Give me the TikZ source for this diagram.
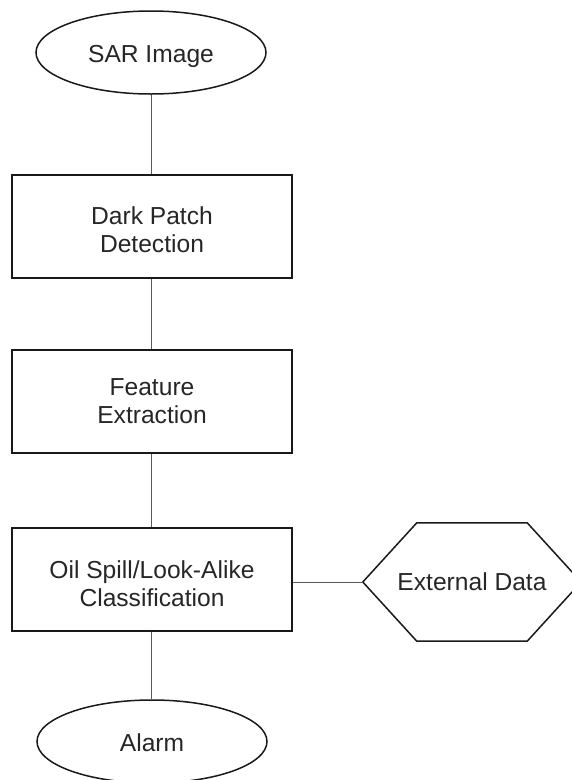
\documentclass[tikz,border=0pt]{standalone}
\usepackage{fontspec}
\setmainfont{Liberation Sans}
\usetikzlibrary{shapes.geometric}
\begin{document}
\begin{tikzpicture}[x=1pt,y=-1pt,
  every node/.style={font=\fontsize{24.6}{28}\selectfont, text=black!85, align=center, inner sep=0pt},
  outline/.style={draw=black!90, line width=1.5pt},
  terminal/.style={outline, ellipse, minimum width=230pt, minimum height=83pt},
  stepbox/.style={outline, rectangle, minimum width=280pt, minimum height=103pt},
  datafield/.style={rectangle, minimum width=218pt, minimum height=118pt},
  caption/.style 2 args={label={[yshift=-#1]center:{#2}}},
  link/.style={draw=black!65, line width=0.9pt}]
\useasboundingbox (0,0) rectangle (571,780);

% process chain
\node[terminal, caption={4pt}{SAR Image}] (sar) at (151,52.5) {};
\node[stepbox, caption={3pt}{Dark Patch\\Detection}] (dark) at (152,226.5) {};
\node[stepbox, caption={0pt}{Feature\\Extraction}] (feat) at (152,401.5) {};
\node[stepbox, caption={4pt}{Oil Spill/Look-Alike\\Classification}] (cls) at (152,579.5) {};
\node[terminal, caption={1pt}{Alarm}] (alarm) at (152,741.5) {};

% hexagonal data input
\node[datafield] (ext) at (472,582) {External Data};
\draw[outline] (ext.west) -- ([xshift=54pt]ext.north west) -- ([xshift=-54pt]ext.north east)
  -- (ext.east) -- ([xshift=-54pt]ext.south east) -- ([xshift=54pt]ext.south west) -- cycle;

% connectors
\draw[link] (sar.south) -- (sar.south |- dark.north);
\draw[link] (dark.south -| sar.south) -- (sar.south |- feat.north);
\draw[link] (feat.south -| sar.south) -- (sar.south |- cls.north);
\draw[link] (cls.south -| sar.south) -- (sar.south |- alarm.north);
\draw[link] (cls.east |- ext.west) -- (ext.west);
\end{tikzpicture}
\end{document}
